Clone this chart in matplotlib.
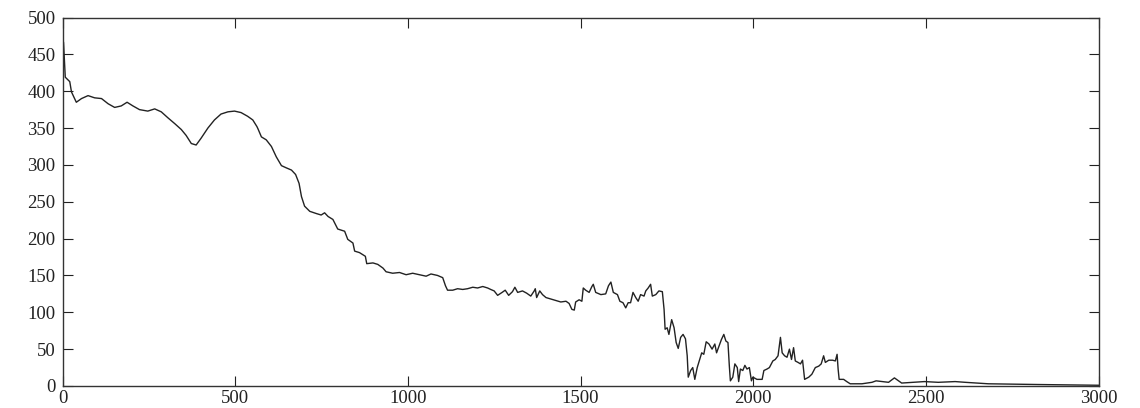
import matplotlib
matplotlib.use("Agg")
import matplotlib.pyplot as plt

plt.rcParams['font.family'] = ['Liberation Serif', 'DejaVu Serif']

# traced (step, value) points
trace = [
    (0, 472), (3, 466), (8, 419), (21, 413), (26, 399), (40, 385), (55, 390),
    (74, 394), (93, 391), (113, 390), (132, 383), (151, 378), (170, 380),
    (187, 385), (204, 380), (223, 375), (247, 373), (267, 376), (286, 372),
    (305, 364), (325, 356), (344, 348), (358, 340), (373, 329), (387, 327),
    (401, 336), (421, 350), (440, 361), (459, 369), (479, 372), (498, 373),
    (517, 371), (536, 366), (551, 361), (563, 352), (566, 349), (576, 338),
    (590, 334), (605, 325), (619, 311), (634, 299), (648, 296), (663, 293),
    (675, 287), (685, 275), (692, 257), (701, 244), (716, 237), (735, 234),
    (749, 232), (759, 235), (769, 230), (783, 226), (797, 213), (817, 210),
    (826, 199), (841, 194), (846, 183), (860, 181), (877, 176), (881, 166),
    (899, 167), (913, 165), (928, 160), (937, 155), (956, 153), (976, 154),
    (995, 151), (1014, 153), (1034, 151), (1053, 149), (1067, 152), (1086, 150),
    (1101, 147), (1109, 136), (1115, 130), (1130, 130), (1144, 132), (1159, 131),
    (1173, 132), (1188, 134), (1202, 133), (1217, 135), (1231, 133), (1240, 131),
    (1250, 129), (1260, 123), (1273, 127), (1282, 130), (1292, 123), (1303, 128),
    (1310, 134), (1318, 127), (1332, 129), (1344, 126), (1356, 122), (1366, 129),
    (1369, 132), (1373, 120), (1382, 129), (1390, 124), (1400, 120), (1414, 118),
    (1429, 116), (1443, 114), (1458, 115), (1467, 112), (1475, 104), (1482, 103),
    (1486, 114), (1496, 117), (1504, 115), (1508, 133), (1515, 130), (1525, 127),
    (1533, 135), (1537, 138), (1544, 127), (1559, 124), (1573, 125), (1581, 136),
    (1588, 141), (1595, 127), (1607, 124), (1614, 115), (1623, 113), (1631, 106),
    (1638, 113), (1645, 113), (1652, 127), (1660, 120), (1667, 115), (1674, 124),
    (1684, 122), (1689, 129), (1696, 133), (1703, 138), (1708, 122), (1718, 124),
    (1727, 129), (1737, 128), (1742, 104), (1745, 77), (1751, 79), (1756, 70),
    (1764, 90), (1771, 79), (1777, 59), (1783, 51), (1790, 66), (1797, 70),
    (1804, 64), (1809, 41), (1812, 12), (1819, 21), (1825, 25), (1831, 9),
    (1838, 25), (1845, 36), (1851, 45), (1857, 43), (1864, 60), (1872, 57),
    (1881, 50), (1889, 57), (1894, 45), (1901, 54), (1908, 63), (1915, 70),
    (1921, 61), (1927, 59), (1931, 27), (1934, 7), (1941, 12), (1947, 30),
    (1954, 25), (1958, 6), (1963, 23), (1970, 21), (1976, 28), (1982, 23),
    (1989, 25), (1995, 7), (1999, 12), (2011, 9), (2026, 9), (2031, 21),
    (2040, 23), (2047, 25), (2057, 34), (2064, 36), (2072, 41), (2079, 66),
    (2084, 45), (2091, 41), (2098, 39), (2105, 50), (2111, 36), (2117, 52),
    (2122, 34), (2130, 32), (2137, 30), (2143, 35), (2149, 9), (2161, 12),
    (2170, 16), (2180, 25), (2190, 27), (2197, 30), (2204, 41), (2209, 32),
    (2219, 35), (2230, 35), (2238, 34), (2243, 43), (2246, 23), (2249, 9),
    (2262, 9), (2271, 6), (2281, 3), (2315, 3), (2344, 5), (2356, 7),
    (2392, 5), (2409, 11), (2421, 7), (2430, 4), (2496, 6), (2536, 5),
    (2585, 6), (2614, 5), (2681, 3), (2826, 2), (3000, 1),
]
x_pts = [p[0] for p in trace]
y_pts = [p[1] for p in trace]

x_ticks = [0, 500, 1000, 1500, 2000, 2500, 3000]
y_ticks = [0, 50, 100, 150, 200, 250, 300, 350, 400, 450, 500]

fig = plt.figure(figsize=(11.4, 4.08), dpi=100)
ax = fig.add_axes([62.5 / 1140, 22 / 408, 1036 / 1140, 368.5 / 408])

ax.plot(x_pts, y_pts, color='#222222', lw=1.0)

ax.set_xlim(0, 3000)
ax.set_ylim(0, 500)
ax.set_xticks(x_ticks)
ax.set_yticks(y_ticks)
ax.tick_params(direction='in', length=7, width=0.8, top=True, right=True,
               labelsize=13.5, colors='#222222', pad=5)
ax.tick_params(axis='x', pad=3)
for s in ax.spines.values():
    s.set_color('#333333')
    s.set_linewidth(1.0)

fig.savefig("out.png", dpi=100)
